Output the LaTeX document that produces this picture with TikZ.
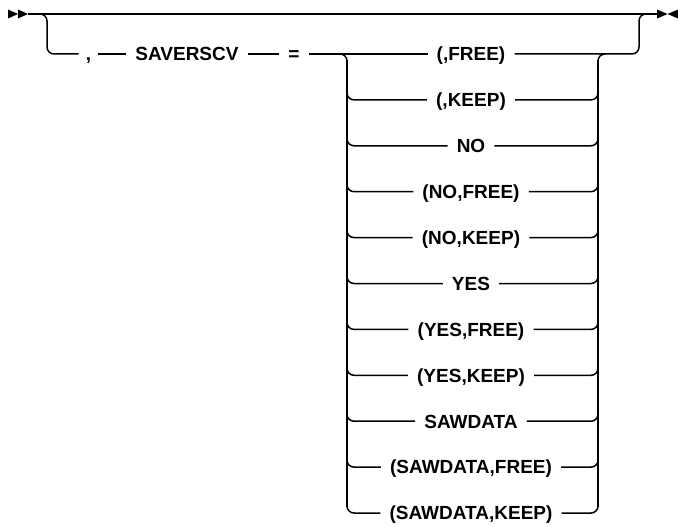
\documentclass[tikz,border=0pt]{standalone}
\usepackage{fontspec}
\setmainfont{Liberation Sans}
\begin{document}
\begin{tikzpicture}[x=1pt,y=-1pt,
  rr/.style={line width=1.5pt},
  vv/.style={line width=2.6pt},
  lbl/.style={inner xsep=9pt, inner ysep=0pt, text height=13.7pt, text depth=0pt, font=\fontsize{19}{22}\selectfont\bfseries}]
\useasboundingbox (0,0) rectangle (678,527);
% markers
\fill (8,9.5) -- (18,14) -- (8,18.5) -- cycle;
\fill (18,9.5) -- (28,14) -- (18,18.5) -- cycle;
\fill (657,9.5) -- (667.5,14) -- (657,18.5) -- cycle;
\fill (678,9.5) -- (667.5,14) -- (678,18.5) -- cycle;
\coordinate (s) at (28,14);
\coordinate (e) at (657,14);
\draw[rr] (s) -- (e);
% left branch
\node[lbl, inner xsep=7pt] (comma) at (88.5,54) {,};
\node[lbl] (sav) at (187,54) {SAVERSCV\hspace{7pt}};
\node[lbl] (eq) at (294,54) {=};
\coordinate (bl) at (38,14);
\coordinate (bd) at (47,54);
\draw[rr, rounded corners=7pt] (bl) -- (47,14) -- (bd) -- (comma.west);
\draw[rr] (comma.east) -- (sav.west);
\draw[rr] (sav.east) -- (eq.west);
% stack
\foreach \i/\t in {1/{(,FREE)},2/{(,KEEP)},3/{NO},4/{(NO,FREE)},5/{(NO,KEEP)},6/{YES},7/{(YES,FREE)},8/{(YES,KEEP)},9/{SAWDATA\hspace{6pt}},10/{(SAWDATA,FREE)},11/{(SAWDATA,KEEP)}}{
  \node[lbl] (t\i) at (471,{54+45.9*(\i-1)}) {\t};
  \coordinate (L\i) at (347,{54+45.9*(\i-1)});
  \coordinate (R\i) at (598,{54+45.9*(\i-1)});
}
\draw[rr] (eq.east) -- (t1.west);
\draw[rr, rounded corners=7pt] (340,54) -- (L1) -- ([yshift=-14pt]L1);
\draw[vv] ([yshift=-6pt]L1) -- ([yshift=6pt]L11);
\draw[vv] ([yshift=-6pt]R1) -- ([yshift=6pt]R11);
\foreach \i in {2,...,11}{
  \draw[rr, rounded corners=7pt] ([yshift=14pt]L\i) -- (L\i) -- (t\i.west);
  \draw[rr, rounded corners=7pt] (t\i.east) -- (R\i) -- ([yshift=14pt]R\i);
}
\coordinate (up) at (639,54);
\draw[rr, rounded corners=7pt] (t1.east) -- (up) -- (639,14) -- (650,14);
\draw[rr, rounded corners=7pt] ([yshift=-14pt]R1) -- (R1) -- (606,54);
\end{tikzpicture}
\end{document}
